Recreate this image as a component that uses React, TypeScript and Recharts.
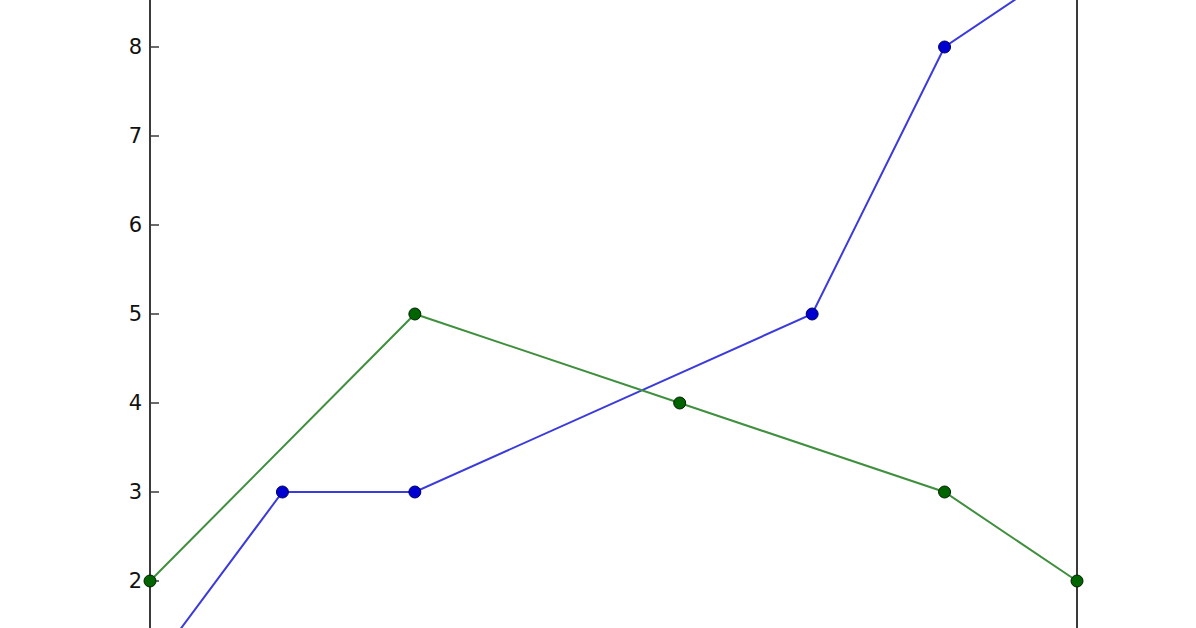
import { Line, LineChart, XAxis, YAxis } from "recharts";

const blueSeries = [
  { x: 0, y: 1 },
  { x: 1, y: 3 },
  { x: 2, y: 3 },
  { x: 5, y: 5 },
  { x: 6, y: 8 },
  { x: 7, y: 9 },
];

const greenSeries = [
  { x: 0, y: 2 },
  { x: 2, y: 5 },
  { x: 4, y: 4 },
  { x: 6, y: 3 },
  { x: 7, y: 2 },
];

// only the ticks that fall inside the visible crop
const yTicks = [2, 3, 4, 5, 6, 7, 8];

const axisFont = { fontFamily: "DejaVu Sans", fontSize: 21, fill: "#111" };

export default function App() {
  return (
    <div
      style={{
        position: "fixed",
        left: 0,
        top: 0,
        width: 1196,
        height: 628,
        overflow: "hidden",
        background: "#fff",
      }}
    >
      <div style={{ position: "absolute", left: 0, top: -92 }}>
        <LineChart
          width={1196}
          height={812}
          margin={{ top: 50, right: 59, bottom: 50, left: 0 }}
        >
          <XAxis dataKey="x" type="number" domain={[0, 7]} hide allowDuplicatedCategory={false} />
          <YAxis
            yAxisId="left"
            type="number"
            domain={[1, 9]}
            ticks={yTicks}
            width={150}
            tickSize={-9}
            tickMargin={17}
            tick={axisFont}
            axisLine={{ stroke: "#3a3a3a", strokeWidth: 2 }}
            tickLine={{ stroke: "#3a3a3a", strokeWidth: 1.5 }}
          />
          <YAxis
            yAxisId="right"
            orientation="right"
            type="number"
            domain={[1, 9]}
            ticks={yTicks}
            width={60}
            tickSize={-9}
            tickFormatter={() => ""}
            axisLine={{ stroke: "#3a3a3a", strokeWidth: 2 }}
            tickLine={{ stroke: "#3a3a3a", strokeWidth: 1.5 }}
          />
          <Line
            yAxisId="left"
            data={blueSeries}
            dataKey="y"
            type="linear"
            stroke="#3b3bdc"
            strokeWidth={2}
            dot={{ r: 6, fill: "#0000d0", stroke: "#000060", strokeWidth: 1 }}
            isAnimationActive={false}
          />
          <Line
            yAxisId="left"
            data={greenSeries}
            dataKey="y"
            type="linear"
            stroke="#3f8f3f"
            strokeWidth={2}
            dot={{ r: 6, fill: "#006400", stroke: "#002000", strokeWidth: 1 }}
            isAnimationActive={false}
          />
        </LineChart>
      </div>
    </div>
  );
}
